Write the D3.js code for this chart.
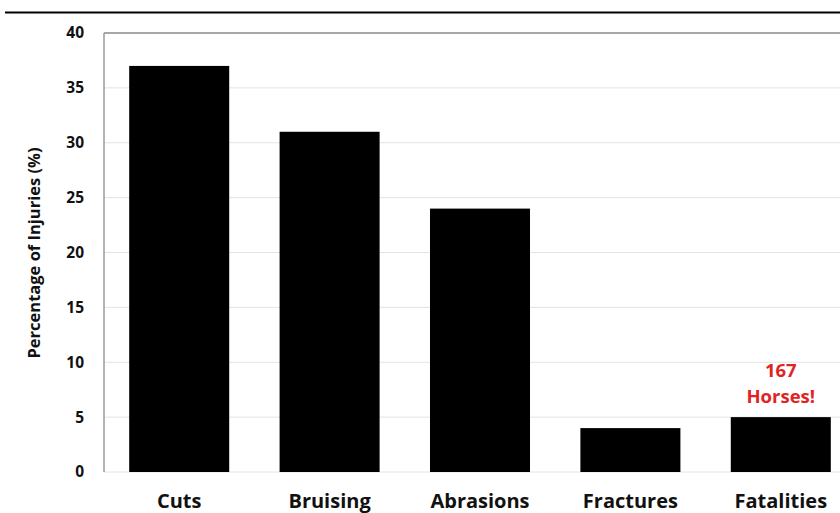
<!DOCTYPE html>
<html><head><meta charset="utf-8">
<script src="https://cdn.jsdelivr.net/npm/d3@7"></script>
<style>body{margin:0;background:#fff}svg{display:block}</style>
</head><body>
<svg id="c" width="840" height="513"></svg>
<script>
const categories = ["Cuts", "Bruising", "Abrasions", "Fractures", "Fatalities"];
const values = [37, 31, 24, 4, 5];
const yTicks = [0, 5, 10, 15, 20, 25, 30, 35, 40];
const yLabel = "Percentage of Injuries (%)";
const noteLines = ["167", "Horses!"];

(function () {
const svg = d3.select("#c");
const pLeft = 104, pRight = 856, pTop = 33, pBottom = 472;
const x = d3.scaleBand().domain(categories).range([pLeft, pRight]).paddingInner(0.335).paddingOuter(0.1675);
const y = d3.scaleLinear().domain([0, 40]).range([pBottom, pTop]);

// top rule
svg.append("line").attr("x1", 5).attr("x2", 840).attr("y1", 12.5).attr("y2", 12.5)
  .attr("stroke", "#000").attr("stroke-width", 2);

// gridlines
svg.append("g").selectAll("line").data(yTicks).join("line")
  .attr("x1", pLeft).attr("x2", 840)
  .attr("y1", d => y(d)).attr("y2", d => y(d))
  .attr("stroke", d => d === 40 ? "#8a8a8a" : "#e3e3e3")
  .attr("stroke-width", d => d === 40 ? 1.5 : 1);

// left axis line
svg.append("line").attr("x1", pLeft).attr("x2", pLeft).attr("y1", pTop).attr("y2", pBottom)
  .attr("stroke", "#9a9a9a").attr("stroke-width", 1.5);

// y tick labels
const yAxis = d3.axisLeft(y).tickValues(yTicks).tickSize(0).tickPadding(20);
const ga = svg.append("g").attr("transform", `translate(${pLeft},0)`).call(yAxis);
ga.select(".domain").remove();
ga.selectAll("text").attr("font-family", "'Open Sans', sans-serif").attr("font-weight", "bold")
  .attr("font-size", 15.5).attr("fill", "#111");

// bars
svg.append("g").selectAll("rect").data(values).join("rect")
  .attr("x", (d, i) => x(categories[i]))
  .attr("width", x.bandwidth())
  .attr("y", d => y(d))
  .attr("height", d => y(0) - y(d))
  .attr("fill", "#000");

// category labels
svg.append("g").selectAll("text").data(categories).join("text")
  .attr("x", d => x(d) + x.bandwidth() / 2)
  .attr("y", 507.5)
  .attr("text-anchor", "middle")
  .attr("font-family", "'Open Sans', sans-serif").attr("font-weight", "bold")
  .attr("font-size", 20).attr("fill", "#111")
  .text(d => d);

// y label
svg.append("text")
  .attr("transform", `translate(40,253) rotate(-90)`)
  .attr("text-anchor", "middle")
  .attr("font-family", "'Open Sans', sans-serif").attr("font-weight", "bold")
  .attr("font-size", 16.5).attr("fill", "#111")
  .text(yLabel);

// annotation
const fx = x("Fatalities") + x.bandwidth() / 2;
svg.append("g").selectAll("text").data(noteLines).join("text")
  .attr("x", fx)
  .attr("y", (d, i) => y(values[4]) - 40 + i * 25.4)
  .attr("text-anchor", "middle")
  .attr("font-family", "'Open Sans', sans-serif").attr("font-weight", "bold")
  .attr("font-size", 18.5).attr("fill", "#e02424")
  .text(d => d);
})();
</script>
</body></html>
